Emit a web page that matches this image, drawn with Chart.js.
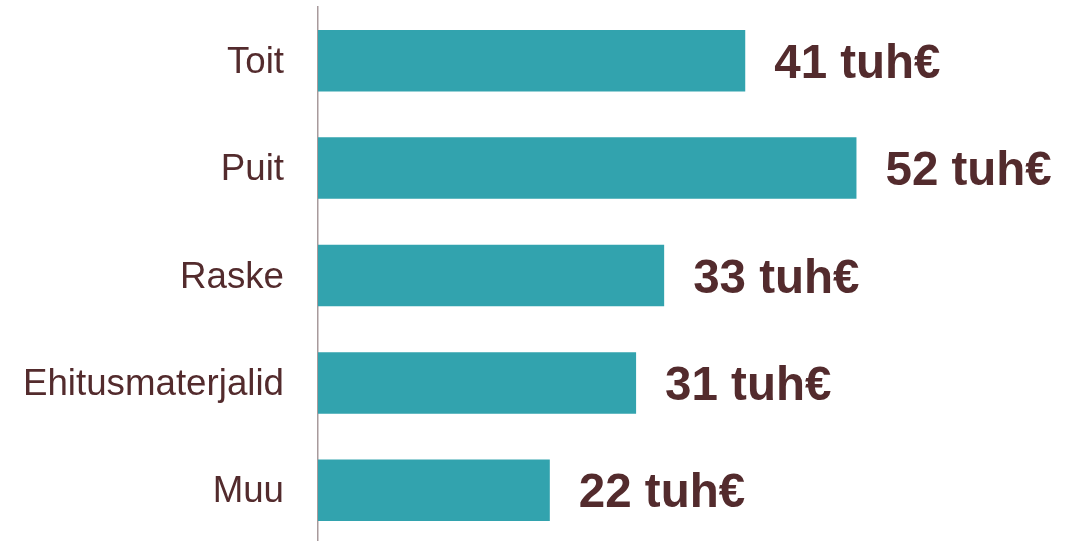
<!DOCTYPE html>
<html>
<head>
<meta charset="utf-8">
<script src="https://cdn.jsdelivr.net/npm/chart.js@4/dist/chart.umd.min.js"></script>
<style>
html,body{margin:0;padding:0;background:#fff;overflow:hidden;}
#wrap{width:1081px;height:544px;}
</style>
</head>
<body>
<div id="wrap"><canvas id="c" width="1081" height="544"></canvas></div>
<script>
const categories = ["Toit", "Puit", "Raske", "Ehitusmaterjalid", "Muu"];
const values = [41.1, 51.8, 33.3, 30.6, 22.3];
const valueLabels = ["41 tuh€", "52 tuh€", "33 tuh€", "31 tuh€", "22 tuh€"];

const barColor = "#32A3AE";
const textColor = "#532B2D";

const valueLabelPlugin = {
  id: "valueLabels",
  afterDatasetsDraw(chart) {
    const ctx = chart.ctx;
    const meta = chart.getDatasetMeta(0);
    ctx.save();
    ctx.font = "bold 47.5px 'Liberation Sans', Arial, sans-serif";
    ctx.fillStyle = textColor;
    ctx.textAlign = "left";
    ctx.textBaseline = "alphabetic";
    meta.data.forEach((bar, i) => {
      ctx.fillText(valueLabels[i], bar.x + 29, bar.y + 17);
    });
    ctx.restore();
  }
};

new Chart(document.getElementById("c"), {
  type: "bar",
  data: {
    labels: categories,
    datasets: [{
      data: values,
      backgroundColor: barColor,
      borderWidth: 0,
      barPercentage: 0.573,
      categoryPercentage: 1
    }]
  },
  options: {
    indexAxis: "y",
    responsive: false,
    animation: false,
    layout: { padding: { top: 7, bottom: 0, left: 0, right: 0 } },
    plugins: { legend: { display: false }, tooltip: { enabled: false } },
    scales: {
      x: { display: false, min: 0, max: 73.4 },
      y: {
        afterFit(scale) { scale.width = 318; scale.paddingTop = 0; scale.paddingBottom = 0; },
        grid: { display: false, drawTicks: false },
        border: { display: true, color: "#A89A9C", width: 1.5 },
        ticks: {
          padding: 34,
          labelOffset: 2,
          color: textColor,
          font: { family: "'Liberation Sans', Arial, sans-serif", size: 36.7 }
        }
      }
    }
  },
  plugins: [valueLabelPlugin]
});
</script>
</body>
</html>
